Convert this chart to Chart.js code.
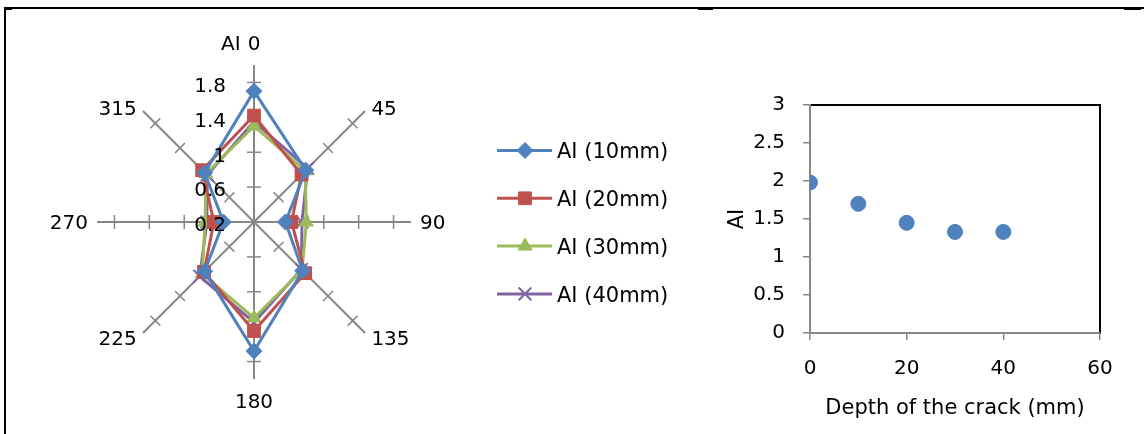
<!DOCTYPE html>
<html>
<head>
<meta charset="utf-8">
<script src="https://cdn.jsdelivr.net/npm/chart.js@4.4.0/dist/chart.umd.min.js"></script>
<style>
html,body{margin:0;padding:0;background:#fff;width:1144px;height:434px;overflow:hidden;}
.wrap{position:absolute;top:0;height:434px;}
#wrapA{left:0;width:700px;}
#wrapB{left:700px;width:444px;}
.ln{position:absolute;background:#000;}
</style>
</head>
<body>
<div class="wrap" id="wrapA"><canvas id="radar"></canvas></div>
<div class="wrap" id="wrapB"><canvas id="scatter"></canvas></div>
<div class="ln" style="left:4px;top:7px;width:1140px;height:1.5px;"></div>
<div class="ln" style="left:4px;top:7px;width:1.5px;height:427px;"></div>
<div class="ln" style="left:4px;top:7px;width:8px;height:3px;"></div>
<div class="ln" style="left:698px;top:7px;width:15px;height:3px;"></div>
<div class="ln" style="left:1124px;top:7px;width:17px;height:3px;"></div>
<script>
// ---- data ----
const angleLabels = ['0', '45', '90', '135', '180', '225', '270', '315'];
const seriesNames = ['AI (10mm)', 'AI (20mm)', 'AI (30mm)', 'AI (40mm)'];
const ai10mm = [1.70, 1.04, 0.56, 0.99, 1.68, 1.00, 0.55, 1.00];
const ai20mm = [1.42, 0.97, 0.63, 1.03, 1.45, 1.01, 0.66, 1.04];
const ai30mm = [1.30, 1.03, 0.80, 0.98, 1.30, 1.04, 0.76, 0.98];
const ai40mm = [1.35, 1.07, 0.75, 0.97, 1.35, 1.08, 0.74, 0.96];
const radarTickValues = [0.2, 0.6, 1, 1.4, 1.8];
const radarMin = 0.2, radarMax = 2.0;
const radarAxisTitle = 'AI';

const crackDepth = [0, 10, 20, 30, 40];
const crackAI = [1.98, 1.70, 1.45, 1.33, 1.33];
const xTitle = 'Depth of the crack (mm)';
const yTitle = 'AI';

// ---- styles ----
const FONT = "'DejaVu Sans', sans-serif";
const GRAY = '#878787';
const colors = ['#4F81BD', '#C0504D', '#9BBB59', '#8064A2'];
const pStyles = ['rectRot', 'rect', 'triangle', 'crossRot'];
const pRadius = [8, 9, 8, 9];
Chart.defaults.font.family = FONT;
Chart.defaults.color = '#000';

function drawMarker(ctx, style, r, x, y, color) {
  ctx.save();
  ctx.fillStyle = color; ctx.strokeStyle = color; ctx.lineWidth = style === 'crossRot' ? 2 : 1;
  if (Chart.helpers && Chart.helpers.drawPoint) {
    Chart.helpers.drawPoint(ctx, {pointStyle: style, radius: r, borderWidth: ctx.lineWidth, rotation: 0}, x, y);
  }
  ctx.restore();
}

const radarDecor = {
  id: 'radarDecor',
  beforeDatasetsDraw(chart) {
    const s = chart.scales.r, ctx = chart.ctx;
    ctx.save();
    ctx.strokeStyle = GRAY; ctx.lineWidth = 1.5;
    for (let i = 0; i < chart.data.labels.length; i++) {
      radarTickValues.forEach(v => {
        const d = s.getDistanceFromCenterForValue(v);
        if (d < 1) return;
        const p = s.getPointPosition(i, d);
        const px = -Math.sin(p.angle), py = Math.cos(p.angle);
        ctx.beginPath();
        ctx.moveTo(p.x - px * 7, p.y - py * 7);
        ctx.lineTo(p.x + px * 7, p.y + py * 7);
        ctx.stroke();
      });
    }
    ctx.restore();
  },
  afterDatasetsDraw(chart) {
    const s = chart.scales.r, ctx = chart.ctx;
    const cx = s.xCenter, cy = s.yCenter;
    const size = 20, h = 0.729 * size;
    ctx.save();
    ctx.fillStyle = '#000';
    ctx.font = size + 'px ' + FONT;
    ctx.textBaseline = 'alphabetic';
    // value tick labels
    ctx.textAlign = 'right';
    radarTickValues.forEach(v => {
      const p = s.getPointPosition(0, s.getDistanceFromCenterForValue(v));
      ctx.fillText(String(v), cx - 28, p.y + 2 + h / 2);
    });
    // category labels
    chart.data.labels.forEach((lab, i) => {
      const p = s.getPointPosition(i, 166);
      const dx = p.x - cx, dy = p.y - cy;
      if (Math.abs(dx) < 1) {
        const q = s.getPointPosition(i, 179);
        ctx.textAlign = 'center';
        ctx.fillText(lab, q.x, q.y + h / 2);
        if (i === 0) {
          const w = ctx.measureText(lab).width;
          ctx.textAlign = 'right';
          ctx.fillText(radarAxisTitle, q.x - w / 2 - 7, q.y + h / 2);
        }
      } else if (Math.abs(dy) < 1) {
        ctx.textAlign = dx > 0 ? 'left' : 'right';
        ctx.fillText(lab, p.x, p.y + h / 2);
      } else {
        ctx.textAlign = dx > 0 ? 'left' : 'right';
        const yy = dy < 0 ? cy + dy * 0.91 : cy + dy * 0.92 + h;
        ctx.fillText(lab, p.x, yy);
      }
    });
    // legend
    ctx.font = '21px ' + FONT;
    ctx.textAlign = 'left';
    chart.data.datasets.forEach((ds, i) => {
      const y = 150.5 + i * 47.8;
      ctx.strokeStyle = ds.borderColor; ctx.lineWidth = 3;
      ctx.beginPath(); ctx.moveTo(497, y); ctx.lineTo(552, y); ctx.stroke();
      drawMarker(ctx, ds.pointStyle, ds.pointRadius, 525, y, ds.borderColor);
      ctx.fillStyle = '#000';
      ctx.fillText(ds.label, 557, y + 0.729 * 21 / 2);
    });
    ctx.restore();
  }
};

const radarSets = [ai10mm, ai20mm, ai30mm, ai40mm].map((arr, i) => ({
  label: seriesNames[i],
  data: arr,
  borderColor: colors[i],
  backgroundColor: colors[i],
  pointBackgroundColor: colors[i],
  pointBorderColor: colors[i],
  pointStyle: pStyles[i],
  pointRadius: pRadius[i],
  pointBorderWidth: i === 3 ? 2 : 1,
  borderWidth: 3,
  fill: false,
  tension: 0
}));

new Chart(document.getElementById('radar'), {
  type: 'radar',
  data: {labels: angleLabels, datasets: radarSets},
  options: {
    responsive: true, maintainAspectRatio: false, animation: false, devicePixelRatio: 1,
    layout: {padding: {left: 97, top: 65, right: 289, bottom: 55}},
    plugins: {legend: {display: false}, tooltip: {enabled: false}},
    scales: {
      r: {
        min: radarMin, max: radarMax,
        ticks: {display: false, stepSize: 0.4},
        grid: {display: false},
        angleLines: {display: true, color: GRAY, lineWidth: 2},
        pointLabels: {display: false}
      }
    }
  },
  plugins: [radarDecor]
});

const plotFrame = {
  id: 'plotFrame',
  beforeDraw(chart) {
    const a = chart.chartArea, ctx = chart.ctx;
    ctx.save();
    ctx.strokeStyle = '#000'; ctx.lineWidth = 2;
    ctx.strokeRect(a.left, a.top, a.right - a.left, a.bottom - a.top);
    ctx.restore();
  }
};

new Chart(document.getElementById('scatter'), {
  type: 'scatter',
  data: {
    datasets: [{
      label: yTitle,
      data: crackDepth.map((x, i) => ({x: x, y: crackAI[i]})),
      backgroundColor: '#4F81BD', borderColor: '#4F81BD',
      pointRadius: 7.5, pointStyle: 'circle'
    }]
  },
  options: {
    responsive: true, maintainAspectRatio: false, animation: false, devicePixelRatio: 1,
    layout: {padding: {left: 0, top: 105, right: 44, bottom: 0}},
    plugins: {legend: {display: false}, tooltip: {enabled: false}},
    scales: {
      x: {
        type: 'linear', position: 'bottom', min: 0, max: 60,
        ticks: {stepSize: 20, padding: 17, font: {size: 20}, color: '#000', callback: v => String(v)},
        grid: {display: true, drawOnChartArea: false, drawTicks: true, tickLength: 7, color: GRAY, lineWidth: 1.5},
        border: {display: true, color: GRAY, width: 2},
        title: {display: true, text: xTitle, font: {size: 21}, color: '#000', padding: {top: 0, bottom: 13}},
        afterFit(s) { s.height = 101; }
      },
      y: {
        type: 'linear', position: 'left', min: 0, max: 3,
        ticks: {stepSize: 0.5, padding: 18, font: {size: 20}, color: '#000', callback: v => String(v)},
        grid: {display: true, drawOnChartArea: false, drawTicks: true, tickLength: 7, color: GRAY, lineWidth: 1.5},
        border: {display: true, color: GRAY, width: 2},
        title: {display: true, text: yTitle, font: {size: 21}, color: '#000', padding: {top: 25, bottom: 0}},
        afterFit(s) { s.width = 110; }
      }
    }
  },
  plugins: [plotFrame]
});
</script>
</body>
</html>
